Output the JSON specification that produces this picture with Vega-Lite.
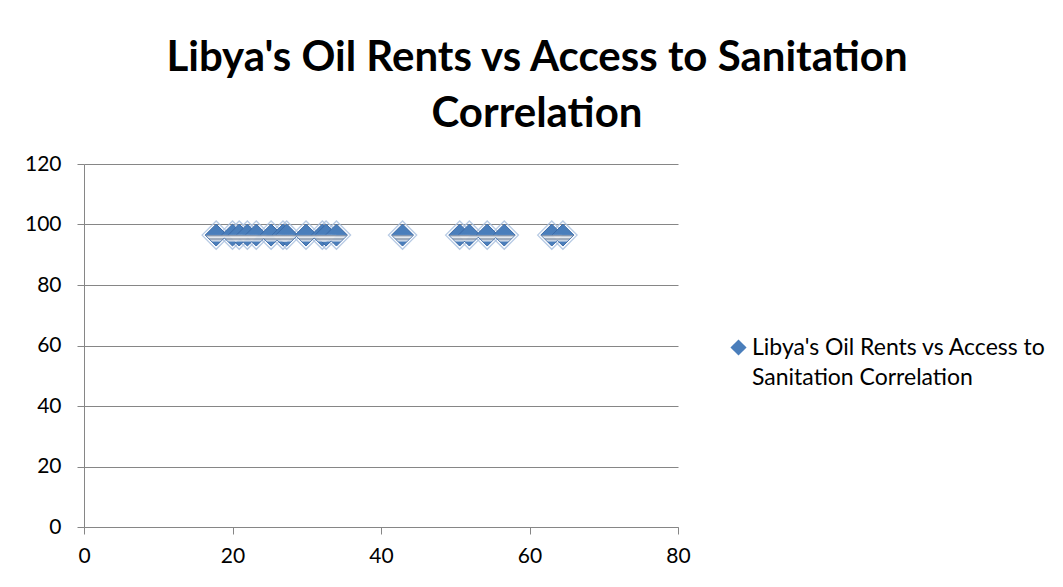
{
  "$schema": "https://vega.github.io/schema/vega-lite/v6.json",
  "width": 594,
  "height": 363,
  "autosize": {"type": "none"},
  "padding": {"left": 84, "top": 164, "right": 385, "bottom": 60},
  "background": "white",
  "title": {
    "text": ["Libya's Oil Rents vs Access to Sanitation", "Correlation"],
    "font": "Lato",
    "fontSize": 42,
    "fontWeight": "bold",
    "color": "black",
    "anchor": "middle",
    "dx": 156,
    "offset": 17,
    "lineHeight": 56
  },
  "data": {
    "values": [
      {"oil_rents": 17.8, "sanitation": 96.5, "series": "Libya's Oil Rents vs Access to Sanitation Correlation"},
      {"oil_rents": 20.0, "sanitation": 96.5, "series": "Libya's Oil Rents vs Access to Sanitation Correlation"},
      {"oil_rents": 20.9, "sanitation": 96.5, "series": "Libya's Oil Rents vs Access to Sanitation Correlation"},
      {"oil_rents": 22.0, "sanitation": 96.5, "series": "Libya's Oil Rents vs Access to Sanitation Correlation"},
      {"oil_rents": 23.2, "sanitation": 96.5, "series": "Libya's Oil Rents vs Access to Sanitation Correlation"},
      {"oil_rents": 25.2, "sanitation": 96.5, "series": "Libya's Oil Rents vs Access to Sanitation Correlation"},
      {"oil_rents": 26.8, "sanitation": 96.5, "series": "Libya's Oil Rents vs Access to Sanitation Correlation"},
      {"oil_rents": 27.3, "sanitation": 96.5, "series": "Libya's Oil Rents vs Access to Sanitation Correlation"},
      {"oil_rents": 29.9, "sanitation": 96.5, "series": "Libya's Oil Rents vs Access to Sanitation Correlation"},
      {"oil_rents": 32.1, "sanitation": 96.5, "series": "Libya's Oil Rents vs Access to Sanitation Correlation"},
      {"oil_rents": 32.6, "sanitation": 96.5, "series": "Libya's Oil Rents vs Access to Sanitation Correlation"},
      {"oil_rents": 34.0, "sanitation": 96.5, "series": "Libya's Oil Rents vs Access to Sanitation Correlation"},
      {"oil_rents": 42.9, "sanitation": 96.5, "series": "Libya's Oil Rents vs Access to Sanitation Correlation"},
      {"oil_rents": 50.6, "sanitation": 96.5, "series": "Libya's Oil Rents vs Access to Sanitation Correlation"},
      {"oil_rents": 51.9, "sanitation": 96.5, "series": "Libya's Oil Rents vs Access to Sanitation Correlation"},
      {"oil_rents": 54.3, "sanitation": 96.5, "series": "Libya's Oil Rents vs Access to Sanitation Correlation"},
      {"oil_rents": 56.6, "sanitation": 96.5, "series": "Libya's Oil Rents vs Access to Sanitation Correlation"},
      {"oil_rents": 63.0, "sanitation": 96.5, "series": "Libya's Oil Rents vs Access to Sanitation Correlation"},
      {"oil_rents": 64.5, "sanitation": 96.5, "series": "Libya's Oil Rents vs Access to Sanitation Correlation"}
    ]
  },
  "encoding": {
    "x": {
      "field": "oil_rents",
      "type": "quantitative",
      "scale": {"domain": [0, 80], "nice": false},
      "axis": {"values": [0, 20, 40, 60, 80], "grid": false, "title": null, "labelPadding": 11}
    },
    "y": {
      "field": "sanitation",
      "type": "quantitative",
      "scale": {"domain": [0, 120], "nice": false},
      "axis": {"values": [0, 20, 40, 60, 80, 100, 120], "grid": true, "title": null, "labelPadding": 16}
    }
  },
  "layer": [
    {
      "mark": {"type": "point", "shape": "diamond", "size": 800, "filled": false, "stroke": "#a9c0df", "strokeWidth": 1.3, "opacity": 0.85}
    },
    {
      "mark": {"type": "point", "shape": "diamond", "size": 480, "filled": true, "opacity": 1, "stroke": "#3b6aa8", "strokeWidth": 1},
      "encoding": {
        "color": {
          "field": "series",
          "type": "nominal",
          "scale": {"range": ["#4a7ebb"]},
          "legend": {
            "orient": "none",
            "legendX": 643,
            "legendY": 172,
            "title": null,
            "symbolType": "diamond",
            "symbolSize": 260,
            "symbolStrokeWidth": 0,
            "labelFont": "Lato",
            "labelFontSize": 23,
            "labelColor": "black",
            "labelLimit": 400,
            "labelOffset": 2,
            "labelExpr": "[\"Libya's Oil Rents vs Access to\", \"Sanitation Correlation\"]"
          }
        }
      }
    },
    {
      "mark": {
        "type": "point",
        "shape": "diamond",
        "size": 460,
        "filled": true,
        "opacity": 1,
        "strokeWidth": 0,
        "fill": {
          "gradient": "linear",
          "x1": 0, "y1": 0, "x2": 0, "y2": 1,
          "stops": [
            {"offset": 0, "color": "rgba(255,255,255,0)"},
            {"offset": 0.47, "color": "rgba(255,255,255,0)"},
            {"offset": 0.52, "color": "rgba(140,152,170,0.9)"},
            {"offset": 0.6, "color": "rgba(255,255,255,0.95)"},
            {"offset": 0.68, "color": "rgba(143,152,166,0.9)"},
            {"offset": 0.76, "color": "rgba(221,227,236,0.9)"},
            {"offset": 0.84, "color": "rgba(255,255,255,0)"},
            {"offset": 1, "color": "rgba(255,255,255,0)"}
          ]
        }
      }
    }
  ],
  "config": {
    "view": {"stroke": null},
    "style": {"guide-label": {"lineHeight": 30}},
    "axis": {
      "labelFont": "Lato",
      "labelFontSize": 21,
      "labelColor": "black",
      "labelFlush": false,
      "domainColor": "#868686",
      "tickColor": "#868686",
      "gridColor": "#868686",
      "gridWidth": 1,
      "domainWidth": 1,
      "tickSize": 7
    }
  }
}
